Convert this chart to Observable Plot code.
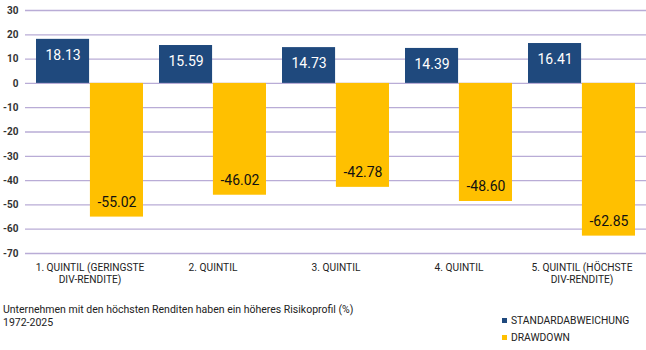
<!DOCTYPE html>
<html>
<head>
<meta charset="utf-8">
<script src="https://cdn.jsdelivr.net/npm/d3@7"></script>
<script src="https://cdn.jsdelivr.net/npm/@observablehq/plot@0.6"></script>
<style>
  body { margin: 0; background: #fff; width: 646px; height: 350px; overflow: hidden; position: relative; font-family: Roboto, sans-serif; }
  #chart { position: absolute; left: 0; top: 0; }
  .note { position: absolute; left: 3px; top: 303px; font-size: 10.5px; line-height: 13px; color: #222; }
  .legend { position: absolute; left: 502px; top: 312px; font-size: 10.3px; color: #222; }
  .legend div { display: flex; align-items: center; height: 17px; }
  .legend span.sw { width: 5px; height: 5px; margin-right: 4px; display: inline-block; }
</style>
</head>
<body>
<div id="chart"></div>
<div class="note">Unternehmen mit den höchsten Renditen haben ein höheres Risikoprofil (%)<br>1972-2025</div>
<div class="legend" id="legend"></div>
<script>
// Quintile categories (axis labels, with line breaks as drawn)
const quintiles = [
  "1. QUINTIL (GERINGSTE\nDIV-RENDITE)",
  "2. QUINTIL",
  "3. QUINTIL",
  "4. QUINTIL",
  "5. QUINTIL (HÖCHSTE\nDIV-RENDITE)"
];
// Standard deviation per quintile (%)
const stdDev = [18.13, 15.59, 14.73, 14.39, 16.41];
// Maximum drawdown per quintile (%)
const drawdown = [-55.02, -46.02, -42.78, -48.60, -62.85];
// Series names and colours
const seriesNames = ["STANDARDABWEICHUNG", "DRAWDOWN"];
const seriesColors = ["#1f497d", "#ffc000"];
// Y axis ticks
const yTicks = [30, 20, 10, 0, -10, -20, -30, -40, -50, -60, -70];

const rows = quintiles.map((q, i) => ({ q, std: stdDev[i], dd: drawdown[i] }));

const W = 646, H = 292;
const mL = 25, mR = 0, mT = 10, mB = 39;
const padIn = 0.13, padOut = 0.07;
// Each quintile band holds two side-by-side bars
const band = d3.scaleBand().domain(quintiles).range([mL, W - mR]).paddingInner(padIn).paddingOuter(padOut).bandwidth();
const half = band / 2;

const chart = Plot.plot({
  width: W,
  height: H,
  marginLeft: mL,
  marginRight: mR,
  marginTop: mT,
  marginBottom: mB,
  style: { fontFamily: "Roboto, sans-serif", background: "#fff" },
  x: { domain: quintiles, paddingInner: padIn, paddingOuter: padOut, align: 0.5, label: null },
  y: { domain: [-70, 30], label: null },
  marks: [
    Plot.ruleY(yTicks, { stroke: "#b9acd6", strokeWidth: 1.3 }),
    Plot.barY(rows, { x: "q", y: "std", fill: seriesColors[0], insetRight: half }),
    Plot.barY(rows, { x: "q", y: "dd", fill: seriesColors[1], insetLeft: half }),
    Plot.text(rows, { x: "q", y: "std", dx: -half / 2, dy: 16, text: d => d.std.toFixed(2), fill: "#fff", fontSize: 14 }),
    Plot.text(rows, { x: "q", y: "dd", dx: half / 2, dy: -15, text: d => d.dd.toFixed(2), fill: "#111", fontSize: 14 }),
    Plot.axisY({ ticks: yTicks, tickFormat: d => String(d), label: null, tickSize: 0, tickPadding: 7, fontSize: 10, fontWeight: "bold", fill: "#333" }),
    Plot.axisX({ label: null, tickSize: 0, tickPadding: 10, fontSize: 10.2, fill: "#222", lineHeight: 1.1 })
  ]
});
document.getElementById("chart").appendChild(chart);

// Legend below the chart
const legend = document.getElementById("legend");
seriesNames.forEach((name, i) => {
  const row = document.createElement("div");
  const sw = document.createElement("span");
  sw.className = "sw";
  sw.style.background = seriesColors[i];
  row.appendChild(sw);
  row.appendChild(document.createTextNode(name));
  legend.appendChild(row);
});
</script>
</body>
</html>
